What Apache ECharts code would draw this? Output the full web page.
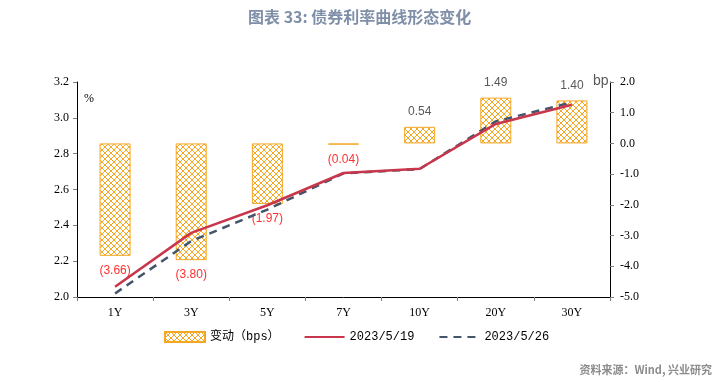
<!DOCTYPE html>
<html>
<head>
<meta charset="utf-8">
<script src="https://cdn.jsdelivr.net/npm/echarts@6/dist/echarts.min.js"></script>
<style>
html,body{margin:0;padding:0;background:#fff;}
#chart{width:718px;height:382px;}
</style>
</head>
<body>
<div id="chart"></div>
<script>
var categories = ['1Y','3Y','5Y','7Y','10Y','20Y','30Y'];
var changeBps = [-3.66, -3.80, -1.97, -0.04, 0.54, 1.49, 1.40];
var rate0519 = [2.057, 2.358, 2.512, 2.692, 2.716, 2.966, 3.073];
var rate0526 = [2.020, 2.312, 2.488, 2.690, 2.714, 2.980, 3.086];
var leftTicks = {min: 2.0, max: 3.2, interval: 0.2};
var rightTicks = {min: -5, max: 2, interval: 1};

var orange = '#f5a623';
var pc = document.createElement('canvas');
pc.width = 6; pc.height = 6;
var g = pc.getContext('2d');
g.fillStyle = '#ffffff';
g.fillRect(0,0,6,6);
g.strokeStyle = orange;
g.lineWidth = 1;
g.beginPath();
g.moveTo(0,0); g.lineTo(6,6);
g.moveTo(6,0); g.lineTo(0,6);
g.stroke();
var pattern = {image: pc, repeat: 'repeat'};

var barData = changeBps.map(function(v){
  var neg = v < 0;
  return {
    value: v,
    label: {
      show: true,
      position: neg ? 'bottom' : 'top',
      distance: 9,
      color: neg ? '#ff3030' : '#595959',
      fontSize: 12,
      fontFamily: 'Liberation Sans, sans-serif',
      formatter: function(p){ var a = Math.abs(p.value).toFixed(2); return p.value < 0 ? '(' + a + ')' : a; }
    }
  };
});

var chart = echarts.init(document.getElementById('chart'));
var serif = 'Liberation Serif, serif';
chart.setOption({
  animation: false,
  backgroundColor: '#fff',
  title: {
    text: '图表 33: 债券利率曲线形态变化',
    left: 243, top: 4,
    textStyle: {fontSize: 16, fontWeight: 'bold', color: '#7f8fa8', fontFamily: 'Noto Sans CJK SC, sans-serif'}
  },
  legend: {
    left: 159, top: 326,
    itemGap: 24,
    itemWidth: 40, itemHeight: 10,
    textStyle: {fontSize: 12, color: '#000', fontFamily: 'Liberation Mono, Noto Sans CJK SC, monospace'},
    data: [
      {name: '变动（bps）', icon: 'rect'},
      {name: '2023/5/19', itemStyle: {opacity: 0}},
      {name: '2023/5/26', itemStyle: {opacity: 0}}
    ]
  },
  grid: {left: 77, right: 108, top: 82, bottom: 85, containLabel: false},
  xAxis: {
    type: 'category',
    data: categories,
    axisLine: {onZero: false, lineStyle: {color: '#000', width: 1}},
    axisTick: {show: true, length: 4, lineStyle: {color: '#808080'}},
    axisLabel: {color: '#000', fontSize: 12, fontFamily: serif, margin: 10}
  },
  yAxis: [
    {
      type: 'value', min: leftTicks.min, max: leftTicks.max, interval: leftTicks.interval,
      position: 'left',
      splitLine: {show: false},
      axisLine: {show: true, lineStyle: {color: '#000'}},
      axisTick: {show: true, length: 4, lineStyle: {color: '#808080'}},
      axisLabel: {color: '#000', fontSize: 12, fontFamily: serif, margin: 8, formatter: function(v){return v.toFixed(1);}}
    },
    {
      type: 'value', min: rightTicks.min, max: rightTicks.max, interval: rightTicks.interval,
      position: 'right',
      splitLine: {show: false},
      axisLine: {show: true, lineStyle: {color: '#000'}},
      axisTick: {show: true, length: 4, lineStyle: {color: '#808080'}},
      axisLabel: {color: '#000', fontSize: 12, fontFamily: serif, margin: 10, formatter: function(v){return v.toFixed(1);}}
    }
  ],
  series: [
    {
      name: '变动（bps）', type: 'bar', yAxisIndex: 1, barWidth: 31,
      itemStyle: {color: pattern, borderColor: orange, borderWidth: 1},
      data: barData, z: 1
    },
    {
      name: '2023/5/19', type: 'line', yAxisIndex: 0, symbol: 'none',
      lineStyle: {color: '#c8364b', width: 2.5}, itemStyle: {color: '#c8364b'},
      data: rate0519, z: 3
    },
    {
      name: '2023/5/26', type: 'line', yAxisIndex: 0, symbol: 'none',
      lineStyle: {color: '#44546a', width: 2.5, type: [8, 6]}, itemStyle: {color: '#44546a'},
      data: rate0526, z: 2
    }
  ],
  graphic: [
    {type: 'text', left: 84, top: 93, style: {text: '%', fontSize: 12, fontFamily: serif, fill: '#000'}},
    {type: 'text', left: 593, top: 74, style: {text: 'bp', fontSize: 14, fontFamily: 'Liberation Sans, sans-serif', fill: '#595959'}},
    {type: 'text', right: 6, top: 364, style: {text: '资料来源：Wind, 兴业研究', fontSize: 11, fontWeight: 'bold', fontFamily: 'Noto Sans CJK SC, sans-serif', fill: '#8c8c8c'}}
  ]
});
</script>
</body>
</html>
